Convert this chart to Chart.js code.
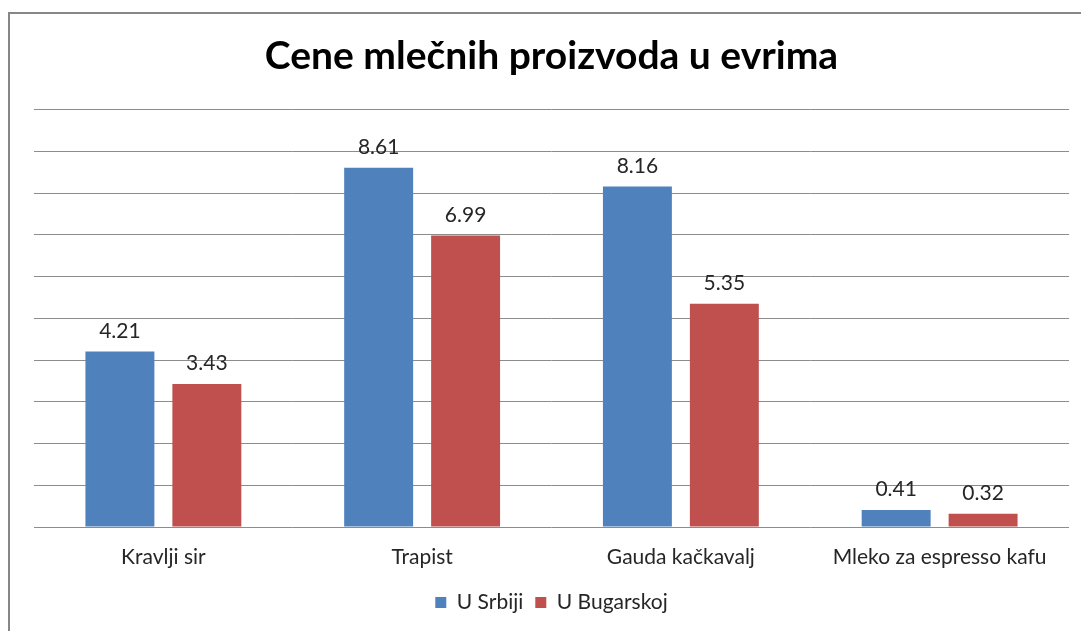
<!DOCTYPE html>
<html>
<head>
<meta charset="utf-8">
<script src="https://cdn.jsdelivr.net/npm/chart.js@4"></script>
<style>
    html, body { margin: 0; padding: 0; background: #fff; }
    body { width: 1081px; height: 631px; position: relative; overflow: hidden; }
    #frame {
        position: absolute; left: 8px; top: 12px; width: 1090px; height: 640px;
        border-left: 2px solid #878787; border-top: 2px solid #878787;
    }
    #chart { position: absolute; left: 0; top: 0; }
</style>
</head>
<body>
<div id="frame"></div>
<canvas id="chart" width="1081" height="631"></canvas>
<script>
const categories = ['Kravlji sir', 'Trapist', 'Gauda kačkavalj', 'Mleko za espresso kafu'];
const srbijaValues = [4.21, 8.61, 8.16, 0.41];
const bugarskaValues = [3.43, 6.99, 5.35, 0.32];
const seriesNames = ['U Srbiji', 'U Bugarskoj'];

const FONT = 'Lato, "Open Sans", sans-serif';

// draws the value above each bar
const valueLabels = {
    id: 'valueLabels',
    afterDatasetsDraw(chart) {
        const ctx = chart.ctx;
        ctx.save();
        ctx.font = '21px ' + FONT;
        ctx.fillStyle = '#262626';
        ctx.textAlign = 'center';
        ctx.textBaseline = 'bottom';
        chart.data.datasets.forEach((ds, i) => {
            chart.getDatasetMeta(i).data.forEach((bar, j) => {
                ctx.fillText(ds.data[j].toFixed(2), bar.x, bar.y - 10);
            });
        });
        ctx.restore();
    }
};

const ctx = document.getElementById('chart').getContext('2d');
new Chart(ctx, {
    type: 'bar',
    data: {
        labels: categories,
        datasets: [{
            label: seriesNames[0],
            data: srbijaValues,
            backgroundColor: '#4f81bd',
            borderWidth: 0
        }, {
            label: seriesNames[1],
            data: bugarskaValues,
            backgroundColor: '#c0504d',
            borderWidth: 0
        }]
    },
    options: {
        responsive: false,
        animation: false,
        devicePixelRatio: 1,
        categoryPercentage: 0.672,
        barPercentage: 0.793,
        layout: { padding: { left: 34, right: 12, top: 33, bottom: 8 } },
        scales: {
            x: {
                grid: { display: false },
                border: { display: false },
                ticks: { font: { family: FONT, size: 21, lineHeight: 1.57 }, color: '#262626', padding: 6 }
            },
            y: {
                min: 0,
                max: 10,
                ticks: { stepSize: 1, display: false },
                grid: { color: '#8c8c8c', lineWidth: 1, drawTicks: false },
                border: { display: false }
            }
        },
        plugins: {
            title: {
                display: true,
                text: 'Cene mlečnih proizvoda u evrima',
                color: '#000',
                font: { family: FONT, size: 39, weight: 'bold' },
                padding: { top: 0, bottom: 30 }
            },
            legend: {
                position: 'bottom',
                labels: {
                    boxWidth: 11,
                    boxHeight: 11,
                    font: { family: FONT, size: 21 },
                    color: '#262626',
                    padding: 12
                }
            },
            tooltip: { enabled: false }
        }
    },
    plugins: [valueLabels]
});
</script>
</body>
</html>
